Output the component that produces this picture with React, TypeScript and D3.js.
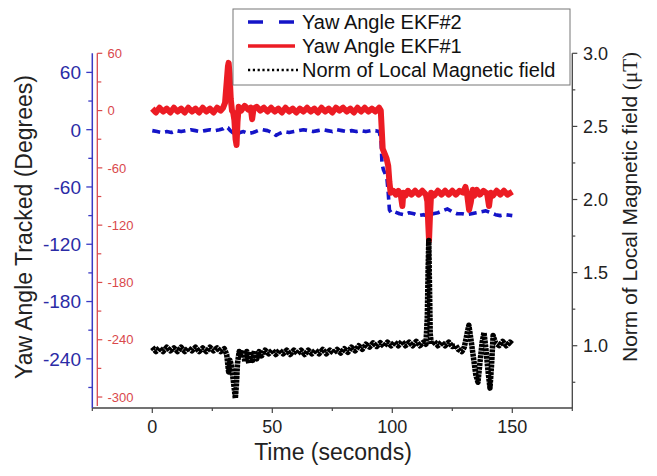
import React from "react";
import * as d3 from "d3";

// ---- data ----
// Yaw Angle EKF#1 (red axis, degrees): [time s, yaw]
const ekf1: [number, number][] = [
  [0,2],[1.5,-2],[3,3],[4.5,-1],[6,2],[7.5,-2],[9,3],[10.5,-1],[12,2],[13.5,-2],[15,3],[16.5,-1],[18,2],[19.5,-2],[21,3],[22.5,-1],[24,2],[25.5,-2],[27,3],[28.5,0],[29.5,3],[30.3,8],[31,30],[31.5,46],[31.8,50],[32.2,38],[32.7,12],[33.2,0],[33.7,-2],[34.2,-10],[34.7,-30],[35.1,-36],[35.5,-12],[36,4],[37,0],[38.5,5],[40,1],[41,3],[41.6,-9],[42.2,2],[43.5,4],[45,0],[46.5,3],[48,-1],[49.5,3],[51,-1],[52.5,2],[54,-2],[55.5,3],[57,-1],[58.5,2],[60,-2],[61.5,2],[63,-1],[64.5,3],[66,-1],[67.5,2],[69,-2],[70.5,3],[72,-1],[73.5,2],[75,-2],[76.5,3],[78,0],[79.5,3],[81,-1],[82.5,2],[84,-2],[85.5,3],[87,-1],[88.5,3],[90,-1],[91.5,2],[93,-1],[94.5,3],[95.2,0],[95.6,-20],[96,-40],[96.8,-45],[97.6,-50],[98.3,-58],[98.8,-75],[99.3,-86],[100.5,-84],[101.5,-88],[102.5,-84],[103.5,-88],[104.2,-100],[104.6,-86],[105.5,-89],[106.5,-84],[108,-88],[109.5,-84],[111,-88],[112.5,-84],[114,-88],[114.6,-95],[115,-120],[115.3,-136],[115.7,-110],[116.2,-86],[117.5,-89],[119,-84],[120.5,-88],[122,-84],[123.5,-88],[125,-84],[126.5,-88],[128,-84],[129.5,-86],[130.5,-80],[131.3,-90],[132,-104],[132.7,-96],[133.5,-83],[134.3,-89],[135.2,-83],[136.5,-88],[138,-84],[139.5,-87],[140.3,-100],[141,-86],[142,-89],[143.5,-84],[145,-88],[146.5,-84],[148,-88],[150,-85]
];

// Yaw Angle EKF#2 (blue axis, degrees): [time s, yaw]
const ekf2: [number, number][] = [
  [0,-1],[2,-2],[4,-3],[6,-2],[8,-3],[10,-1],[12,-2],[14,-1],[16,0],[18,-1],[20,-2],[22,-1],[24,0],[26,-1],[28,0],[29.5,1],[30.5,3],[31.5,2],[32.5,-1],[33.5,-3],[35,-5],[36.5,-3],[38,-2],[40,-4],[42,-3],[44,-1],[46,0],[48,-1],[50,-3],[51.5,-6],[53,-4],[55,-2],[57,-3],[59,-2],[61,-1],[63,0],[65,-1],[67,-2],[69,-1],[71,0],[73,-1],[75,-2],[77,0],[79,-1],[81,-2],[83,-1],[85,-2],[87,-1],[89,-2],[91,-1],[93,-1],[94.5,-2],[95.3,-10],[95.7,-35],[96.3,-42],[97,-46],[97.8,-52],[98.3,-66],[98.8,-84],[99.5,-87],[101,-86],[103,-88],[105,-89],[107,-87],[109,-88],[111,-90],[113,-89],[115,-91],[117,-88],[119,-87],[121,-85],[123,-83],[125,-86],[127,-88],[129,-88],[131,-89],[133,-88],[135,-87],[137,-86],[139,-85],[141,-87],[143,-89],[145,-90],[147,-89],[150,-90]
];

// Norm of Local Magnetic field (right axis, uT): [time s, norm]
const magNorm: [number, number][] = [
  [0,0.99],[1.5,0.96],[3,0.985],[4.5,0.96],[6,0.99],[7.5,0.965],[9,0.985],[10.5,0.96],[12,0.99],[13.5,0.96],[15,0.985],[16.5,0.965],[18,0.99],[19.5,0.96],[21,0.985],[22.5,0.96],[24,0.99],[25.5,0.965],[27,0.985],[28.5,0.96],[30,0.98],[31,0.94],[31.8,0.82],[32.4,0.9],[33,0.86],[33.6,0.78],[34.2,0.7],[34.6,0.64],[35,0.72],[35.5,0.88],[36.2,0.96],[37,0.92],[37.8,0.97],[38.6,0.89],[39.4,0.96],[40.2,0.88],[41,0.96],[41.8,0.9],[42.6,0.965],[43.5,0.91],[44.5,0.96],[45.5,0.93],[47,0.97],[48.5,0.945],[50,0.97],[51.5,0.94],[53,0.97],[54.5,0.945],[56,0.97],[57.5,0.94],[59,0.97],[60.5,0.945],[62,0.97],[63.5,0.94],[65,0.97],[66.5,0.945],[68,0.97],[69.5,0.945],[71,0.975],[72.5,0.945],[74,0.97],[75.5,0.95],[77,0.975],[78.5,0.95],[80,0.98],[81.5,0.955],[83,0.99],[84.5,0.965],[86,1.0],[87.5,0.975],[89,1.01],[90.5,0.99],[92,1.02],[93.5,0.995],[95,1.02],[96.5,0.995],[98,1.025],[99.5,1.0],[101,1.025],[102.5,1.0],[104,1.03],[105.5,1.0],[107,1.025],[108.5,1.0],[110,1.03],[111.5,1.0],[113,1.025],[114,1.01],[114.6,1.2],[114.9,1.5],[115.2,1.72],[115.5,1.4],[115.8,1.08],[116.3,1.01],[117.5,1.03],[119,1.0],[120.5,1.025],[122,1.0],[123.5,1.025],[125,0.995],[126.5,1.0],[127.5,0.975],[129,0.96],[130,0.99],[131,1.07],[131.9,1.14],[132.8,1.04],[133.8,0.92],[134.8,0.8],[135.7,0.75],[136.5,0.88],[137.4,1.02],[138.2,1.09],[139,0.98],[139.8,0.84],[140.7,0.71],[141.4,0.88],[142,1.07],[143,1.02],[144.5,1.0],[146,1.03],[147.5,1.0],[149,1.025],[150,1.01]
];

const xMajor = [0, 50, 100, 150];
const xMinor = [-25, 25, 75, 125, 175];
const blueMajor = [60, 0, -60, -120, -180, -240];
const blueMinor = [30, -30, -90, -150, -210, -270];
const redMajor = [60, 0, -60, -120, -180, -240, -300];
const redMinor = [30, -30, -90, -150, -210, -270];
const magMajor = [1.0, 1.5, 2.0, 2.5, 3.0];
const magMinor = [0.75, 1.25, 1.75, 2.25, 2.75];
const legendLabels = ["Yaw Angle EKF#2", "Yaw Angle EKF#1", "Norm of Local Magnetic field"];

const FONT = "'Liberation Sans', Arial, Helvetica, sans-serif";

export default function App() {
  const top = 53.3, bottom = 408;
  const xLeft = 92.3, xRight = 572.3;
  const redAxisX = 97.3;
  const x = d3.scaleLinear().domain([-25, 175]).range([xLeft, xRight]);
  const yBlue = d3.scaleLinear().domain([-291.5, 80]).range([bottom, top]);
  const yRed = d3.scaleLinear().domain([-311.5, 60]).range([bottom, top]);
  const yMag = d3.scaleLinear().domain([0.574, 3.0]).range([bottom, top]);

  const lineRed = d3.line<[number, number]>().x(d => x(d[0])).y(d => yRed(d[1]));
  const lineBlue = d3.line<[number, number]>().x(d => x(d[0])).y(d => yBlue(d[1]));
  const lineMag = d3.line<[number, number]>().x(d => x(d[0])).y(d => yMag(d[1]));

  const blueCol = "#3a3ac4";
  const blueText = "#2b2ba6";
  const redAxisCol = "#d9484c";
  const axisGray = "#444";

  const legX0 = 248, legX1 = 295;
  const legRows = [22, 46, 70];

  return (
    <svg width={657} height={476} style={{ position: "absolute", left: 0, top: 0, background: "#fff" }}>
      <rect width={657} height={476} fill="#fff" />
      {/* data */}
      <path d={lineBlue(ekf2) || ""} fill="none" stroke="#1414c8" strokeWidth={3.6} strokeDasharray="8 5" strokeLinejoin="round" />
      <path d={lineRed(ekf1) || ""} fill="none" stroke="#ec1c24" strokeWidth={6} strokeLinejoin="round" />
      <path d={lineMag(magNorm) || ""} fill="none" stroke="#000" strokeWidth={5.5} strokeDasharray="3 0.8" strokeLinejoin="round" />

      {/* bottom axis */}
      <line x1={xLeft} x2={xRight} y1={bottom} y2={bottom} stroke={axisGray} strokeWidth={1.3} />
      {xMajor.map(v => (
        <g key={"xm" + v}>
          <line x1={x(v)} x2={x(v)} y1={bottom} y2={bottom + 5} stroke={axisGray} strokeWidth={1.2} />
          <text x={x(v)} y={433} textAnchor="middle" fontFamily={FONT} fontSize={18} fill="#222">{v}</text>
        </g>
      ))}
      {xMinor.map(v => (
        <line key={"xn" + v} x1={x(v)} x2={x(v)} y1={bottom} y2={bottom + 3} stroke={axisGray} strokeWidth={1.2} />
      ))}
      <text x={333} y={460} textAnchor="middle" fontFamily={FONT} fontSize={23} fill="#222">Time (seconds)</text>

      {/* right axis */}
      <line x1={xRight} x2={xRight} y1={top} y2={bottom} stroke={axisGray} strokeWidth={1.3} />
      {magMajor.map(v => (
        <g key={"mm" + v}>
          <line x1={xRight} x2={xRight + 5} y1={yMag(v)} y2={yMag(v)} stroke={axisGray} strokeWidth={1.2} />
          <text x={583} y={yMag(v)} dy="0.36em" fontFamily={FONT} fontSize={18} fill="#222">{v.toFixed(1)}</text>
        </g>
      ))}
      {magMinor.map(v => (
        <line key={"mn" + v} x1={xRight} x2={xRight + 3} y1={yMag(v)} y2={yMag(v)} stroke={axisGray} strokeWidth={1.2} />
      ))}
      <text transform={`translate(637,207) rotate(-90)`} textAnchor="middle" fontFamily={FONT} fontSize={21} fill="#222">
        Norm of Local Magnetic field <tspan fontFamily="'Liberation Serif', 'Times New Roman', serif">(μT)</tspan>
      </text>

      {/* blue left axis */}
      <line x1={xLeft} x2={xLeft} y1={top} y2={bottom} stroke={blueCol} strokeWidth={1.5} />
      {blueMajor.map(v => (
        <g key={"bm" + v}>
          <line x1={xLeft - 6} x2={xLeft} y1={yBlue(v)} y2={yBlue(v)} stroke={blueCol} strokeWidth={1.3} />
          <text x={81} y={yBlue(v)} dy="0.36em" textAnchor="end" fontFamily={FONT} fontSize={19} fill={blueText}>{v}</text>
        </g>
      ))}
      {blueMinor.map(v => (
        <line key={"bn" + v} x1={xLeft - 4} x2={xLeft} y1={yBlue(v)} y2={yBlue(v)} stroke={blueCol} strokeWidth={1.3} />
      ))}
      <text transform={`translate(32,227) rotate(-90)`} textAnchor="middle" fontFamily={FONT} fontSize={23} fill="#222">Yaw Angle Tracked (Degrees)</text>

      {/* red left axis */}
      <line x1={redAxisX} x2={redAxisX} y1={top} y2={bottom - 2} stroke={redAxisCol} strokeWidth={1.3} />
      {redMajor.map(v => (
        <g key={"rm" + v}>
          <line x1={redAxisX} x2={redAxisX + 5} y1={yRed(v)} y2={yRed(v)} stroke={redAxisCol} strokeWidth={1.2} />
          <text x={107.5} y={yRed(v)} dy="0.36em" fontFamily={FONT} fontSize={13} fill={redAxisCol}>{v}</text>
        </g>
      ))}
      {redMinor.map(v => (
        <line key={"rn" + v} x1={redAxisX} x2={redAxisX + 4} y1={yRed(v)} y2={yRed(v)} stroke={redAxisCol} strokeWidth={1.2} />
      ))}

      {/* legend */}
      <rect x={233} y={9} width={337} height={76} fill="#fff" stroke="#777" strokeWidth={1} />
      <line x1={legX0} x2={legX1} y1={legRows[0]} y2={legRows[0]} stroke="#1414c8" strokeWidth={3.6} strokeDasharray="15 16" />
      <line x1={legX0} x2={legX1} y1={legRows[1]} y2={legRows[1]} stroke="#ec1c24" strokeWidth={3.6} />
      <line x1={legX0} x2={legX1 + 3} y1={legRows[2]} y2={legRows[2]} stroke="#000" strokeWidth={2.6} strokeDasharray="2.2 2.6" />
      {legendLabels.map((s, i) => (
        <text key={s} x={302} y={legRows[i] + 7} fontFamily={FONT} fontSize={20} fill="#111">{s}</text>
      ))}
    </svg>
  );
}
